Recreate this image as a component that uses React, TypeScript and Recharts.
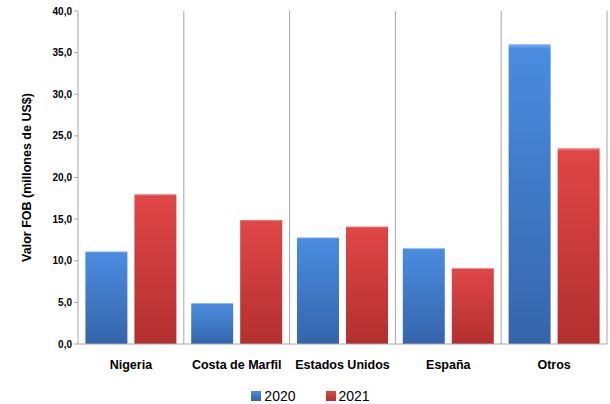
import {
  Bar,
  BarChart,
  Legend,
  ReferenceLine,
  XAxis,
  YAxis,
} from "recharts";

const countries = ["Nigeria", "Costa de Marfil", "Estados Unidos", "España", "Otros"];
const values2020 = [11.1, 4.9, 12.8, 11.5, 36.0];
const values2021 = [18.0, 14.9, 14.1, 9.1, 23.5];
const yTicks = [0, 5, 10, 15, 20, 25, 30, 35, 40];
const boundaries = [1, 2, 3, 4, 5];
const seriesNames = ["2020", "2021"];

const data = countries.map((name, i) => ({
  name,
  idx: i + 0.5,
  "2020": values2020[i],
  "2021": values2021[i],
}));

const font = "'Liberation Sans', Arial, sans-serif";
const axisGray = "#a6a6a6";
const gradIds = ["blue", "red"];

function LegendBox() {
  return (
    <div style={{ position: "relative", top: 4, display: "flex", justifyContent: "center", alignItems: "center", fontSize: 14, fontFamily: font, color: "#000", paddingLeft: 14 }}>
      {seriesNames.map((s, i) => (
        <div key={s} style={{ display: "flex", alignItems: "center", marginRight: i === 0 ? 30 : 0 }}>
          <svg width={10} height={10} style={{ marginRight: 3 }}>
            <rect width={10} height={10} fill={`url(#${gradIds[i]})`} />
          </svg>
          <span>{s}</span>
        </div>
      ))}
    </div>
  );
}

export default function App() {
  return (
    <div style={{ position: "absolute", left: 0, top: 0, fontFamily: font }}>
      <BarChart
        width={610}
        height={404}
        data={data}
        margin={{ top: 11, right: 3, left: 0, bottom: 0 }}
        barCategoryGap="7%"
        barGap={7}
      >
        <defs>
          <linearGradient id="blue" x1="0" y1="0" x2="0" y2="1">
            <stop offset="0%" stopColor="#7fb0ee" />
            <stop offset="1.5%" stopColor="#4a8ce0" />
            <stop offset="100%" stopColor="#3565ab" />
          </linearGradient>
          <linearGradient id="red" x1="0" y1="0" x2="0" y2="1">
            <stop offset="0%" stopColor="#ef7d7d" />
            <stop offset="1.5%" stopColor="#e04646" />
            <stop offset="100%" stopColor="#b32f2f" />
          </linearGradient>
        </defs>
        <XAxis
          dataKey="name"
          axisLine={{ stroke: axisGray }}
          tickLine={false}
          tick={{ fill: "#000", fontSize: 12.5, fontWeight: 700, fontFamily: font }}
          tickMargin={10}
          interval={0}
          height={40}
        />
        <XAxis
          xAxisId="grid"
          dataKey="idx"
          type="number"
          domain={[0, 5]}
          allowDataOverflow
          hide
        />
        <YAxis
          domain={[0, 40]}
          ticks={yTicks}
          width={78}
          axisLine={{ stroke: axisGray }}
          tickLine={{ stroke: axisGray }}
          tickSize={4}
          tick={{ fill: "#000", fontSize: 10, fontWeight: 700, fontFamily: font }}
          tickFormatter={(v: number) => v.toFixed(1).replace(".", ",")}
          label={{
            value: "Valor FOB (millones de US$)",
            angle: -90,
            position: "insideLeft",
            offset: 27,
            style: { textAnchor: "middle", fontSize: 12.5, fontWeight: 700, fill: "#000", fontFamily: font },
          }}
        />
        {boundaries.map((b) => (
          <ReferenceLine key={b} x={b} xAxisId="grid" stroke={axisGray} />
        ))}
        <Legend verticalAlign="bottom" height={20} content={<LegendBox />} />
        <Bar dataKey="2020" fill="url(#blue)" isAnimationActive={false} />
        <Bar dataKey="2021" fill="url(#red)" isAnimationActive={false} />
      </BarChart>
    </div>
  );
}
